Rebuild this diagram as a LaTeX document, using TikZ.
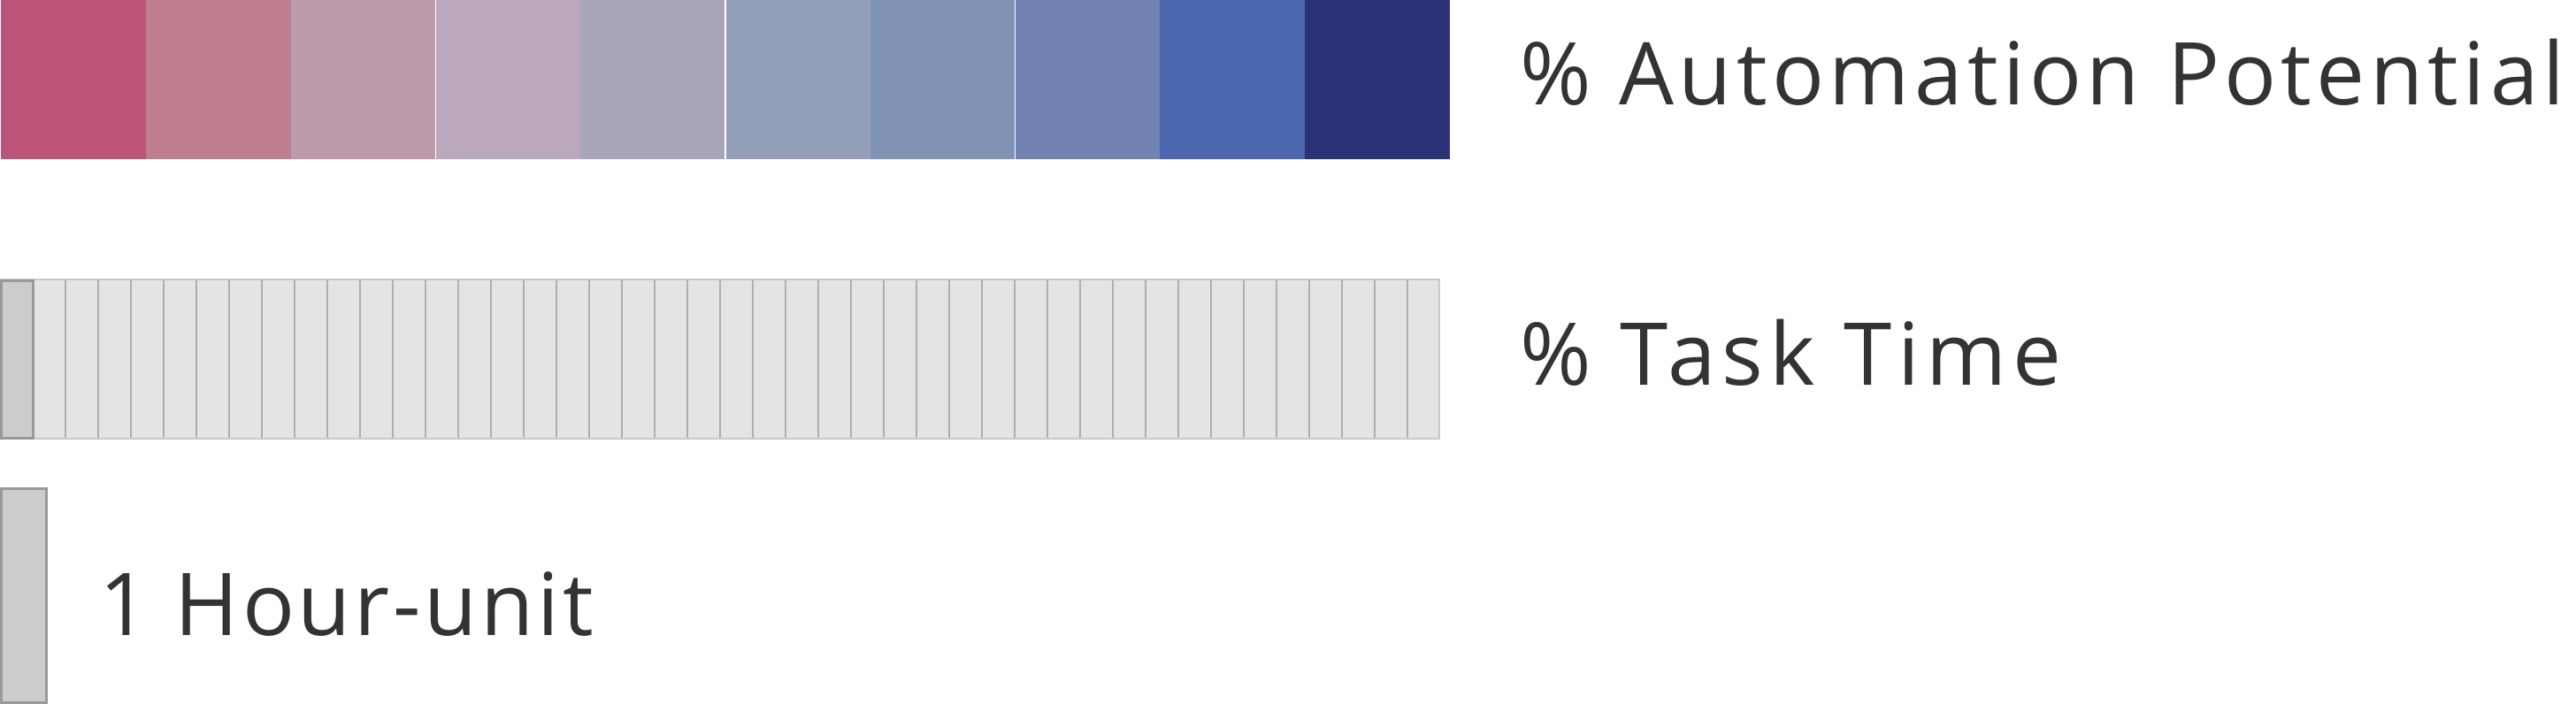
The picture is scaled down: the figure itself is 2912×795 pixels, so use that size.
\documentclass[tikz,border=0pt]{standalone}
\usepackage{fontspec}
\setmainfont{Open Sans}
\newfontfamily\lblfont{Open Sans}
\definecolor{txt}{HTML}{333333}
\definecolor{ca}{HTML}{BC5378}
\definecolor{cb}{HTML}{BF7F91}
\definecolor{cc}{HTML}{BD9BAD}
\definecolor{cd}{HTML}{BBA8BC}
\definecolor{ce}{HTML}{A7A5BA}
\definecolor{cf}{HTML}{939FB8}
\definecolor{cg}{HTML}{8193B5}
\definecolor{ch}{HTML}{7283B3}
\definecolor{ci}{HTML}{4A67AF}
\definecolor{cj}{HTML}{2C3278}
\definecolor{taskfill}{HTML}{E4E4E4}
\definecolor{taskedge}{HTML}{C8C8C8}
\definecolor{sepline}{HTML}{AEAEAE}
\definecolor{unitfill}{HTML}{CCCCCC}
\definecolor{unitedge}{HTML}{999999}
\tikzset{
  lbl/.style={inner sep=0pt, anchor=base west, text=txt, font=\lblfont\fontsize{24.5pt}{29pt}\selectfont},
}
\begin{document}
\begin{tikzpicture}[x=0.25pt,y=-0.25pt]
\useasboundingbox (0,0) rectangle (2912,795);
% automation potential scale
\foreach \c [count=\i from 0] in {ca,cb,cc,cd,ce,cf,cg,ch,ci,cj}{
  \fill[\c] ({1+\i*163.8},0) rectangle ({1+(\i+1)*163.8},180);
}
\foreach \i in {3,5,7}{
  \draw[white,line width=0.3pt] ({1+\i*163.8},0) -- ({1+\i*163.8},180);
}
% task time bar
\draw[fill=taskfill,draw=taskedge,line width=0.6pt] (1,316) rectangle (1627,496);
\foreach \i in {2,...,43}{
  \draw[sepline,line width=0.6pt] ({\i*37},317) -- ({\i*37},495);
}
\draw[fill=unitfill,draw=unitedge,line width=0.75pt] (1,317) rectangle (37,495);
% hour unit
\draw[fill=unitfill,draw=unitedge,line width=0.75pt] (1.5,552) rectangle (52,794);
% labels
\node[lbl] (auto) at (1718,118) {\addfontfeature{LetterSpace=5.5}\% Automation Potential};
\node[lbl] (task) at (1718,435) {\addfontfeature{LetterSpace=7.2}\% Task Time};
\node[lbl] (hour) at (112,718) {\addfontfeature{LetterSpace=3.8}1 Hour-unit};
\end{tikzpicture}
\end{document}
